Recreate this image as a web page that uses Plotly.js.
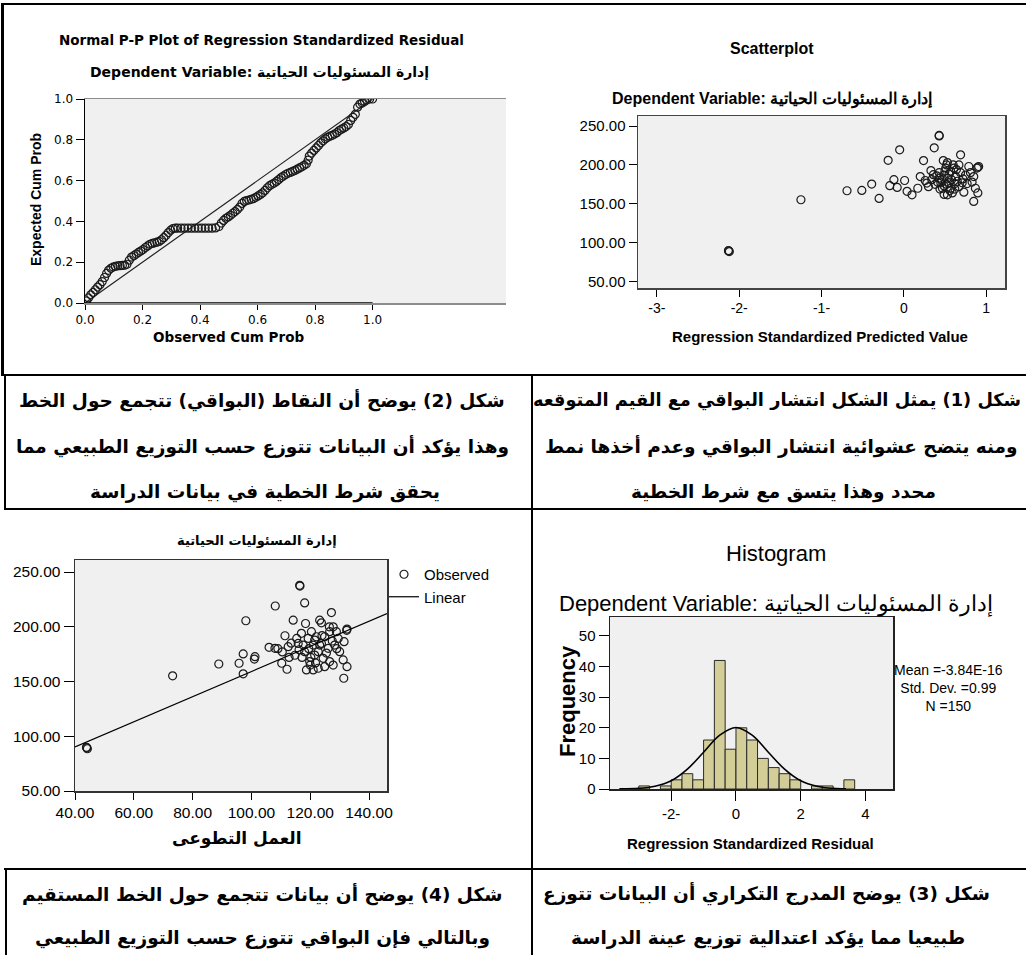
<!DOCTYPE html>
<html><head><meta charset="utf-8">
<script src="https://cdn.plot.ly/plotly-3.0.1.min.js"></script>
<style>html,body{margin:0;padding:0;background:#fff;}#chart{width:1026px;height:955px;}</style>
</head><body><div id="chart"></div>
<script>
// ---------- DATA ----------
// Chart: Normal P-P plot (observed cum prob, expected cum prob)
const ppPairs = [[0.005,0.010],[0.012,0.025],[0.020,0.040],[0.028,0.052],[0.036,0.065],[0.044,0.078],[0.052,0.090],[0.060,0.105],[0.068,0.125],[0.075,0.145],[0.082,0.160],[0.090,0.170],[0.098,0.176],[0.106,0.180],[0.114,0.182],[0.122,0.183],[0.130,0.184],[0.138,0.185],[0.146,0.190],[0.154,0.210],[0.162,0.225],[0.170,0.232],[0.178,0.240],[0.186,0.248],[0.194,0.255],[0.202,0.262],[0.210,0.272],[0.218,0.280],[0.226,0.288],[0.234,0.292],[0.242,0.295],[0.250,0.298],[0.258,0.302],[0.266,0.310],[0.274,0.320],[0.282,0.332],[0.290,0.345],[0.298,0.357],[0.306,0.365],[0.314,0.367],[0.322,0.367],[0.334,0.367],[0.346,0.367],[0.358,0.367],[0.370,0.367],[0.382,0.367],[0.394,0.367],[0.406,0.367],[0.418,0.367],[0.430,0.367],[0.442,0.367],[0.454,0.368],[0.466,0.375],[0.474,0.392],[0.482,0.405],[0.490,0.415],[0.498,0.422],[0.506,0.430],[0.514,0.440],[0.522,0.448],[0.530,0.458],[0.538,0.470],[0.546,0.488],[0.554,0.498],[0.562,0.502],[0.570,0.505],[0.578,0.508],[0.586,0.512],[0.594,0.518],[0.602,0.525],[0.610,0.532],[0.618,0.540],[0.626,0.552],[0.634,0.565],[0.642,0.575],[0.650,0.582],[0.658,0.588],[0.666,0.596],[0.674,0.605],[0.682,0.615],[0.690,0.622],[0.698,0.630],[0.706,0.636],[0.714,0.640],[0.722,0.645],[0.730,0.650],[0.738,0.656],[0.746,0.662],[0.754,0.668],[0.762,0.675],[0.770,0.682],[0.776,0.700],[0.780,0.720],[0.788,0.735],[0.796,0.748],[0.804,0.760],[0.812,0.772],[0.820,0.785],[0.828,0.795],[0.836,0.805],[0.844,0.812],[0.852,0.818],[0.860,0.822],[0.868,0.828],[0.876,0.835],[0.884,0.845],[0.892,0.852],[0.900,0.858],[0.908,0.865],[0.916,0.875],[0.924,0.895],[0.932,0.910],[0.940,0.925],[0.948,0.960],[0.956,0.975],[0.964,0.980],[0.972,0.988],[0.980,0.995],[0.990,1.000],[1.000,1.000]];
const ppRefX = [0, 1];
const ppRefY = [0, 1];
const ppTickVals = [0, 0.2, 0.4, 0.6, 0.8, 1.0];
const ppTickText = ['0.0', '0.2', '0.4', '0.6', '0.8', '1.0'];

// Chart: Scatterplot (standardized predicted value, dependent variable)
const scatPairs = [[-2.13,89.2],[-2.12,88.5],[-2.13,89.8],[-1.25,155.2],[-0.69,166.8],[-0.51,167.2],[-0.39,175.4],[-0.30,156.9],[-0.19,206],[-0.05,219.4],[-0.17,173.3],[-0.12,181],[-0.08,171],[0.01,180],[0.04,166],[0.10,161.6],[0.17,170],[0.20,185],[0.24,205.6],[0.28,176.7],[0.37,222],[0.43,238],[0.43,237.3],[0.33,192.7],[0.48,205.6],[0.69,213],[0.73,165],[0.85,153],[0.87,170],[0.89,196],[0.90,164],[0.90,197],[0.91,198],[0.85,185],[0.79,198],[0.75,187],[0.67,200],[0.65,179],[0.61,196],[0.57,170],[0.53,161.6],[0.47,170],[0.43,183],[0.38,175],[0.34,181],[0.49,187],[0.53,183],[0.55,177],[0.45,177],[0.51,196],[0.57,192],[0.63,185],[0.69,190],[0.71,177],[0.49,173],[0.43,190],[0.36,187.5],[0.59,164],[0.49,162],[0.67,172],[0.41,178],[0.46,181],[0.52,175],[0.58,181],[0.62,176],[0.55,188],[0.50,192],[0.40,186],[0.60,200],[0.53,203],[0.56,167],[0.44,169],[0.62,169],[0.72,182],[0.77,176],[0.81,190],[0.83,178],[0.30,172],[0.26,180],[0.52,200],[0.64,194]];
const scatXTickVals = [-3, -2, -1, 0, 1];
const scatXTickText = ['-3-', '-2-', '-1-', '0', '1'];
const scatYTickVals = [50, 100, 150, 200, 250];
const scatYTickText = ['50.00', '100.00', '150.00', '200.00', '250.00'];

// Chart: Histogram of standardized residuals
const histCenters = [-2.833, -2.167, -1.833, -1.5, -1.167, -0.833, -0.5, -0.167, 0.167, 0.5, 0.833, 1.167, 1.5, 1.833, 2.5, 2.833, 3.5];
const histCounts  = [1, 1, 3, 5, 3, 16, 42, 13, 20, 16, 10, 7, 5, 3, 1, 1, 3];
const normCurveX = [-3.6, -3.0, -2.5, -2.0, -1.5, -1.0, -0.5, 0, 0.5, 1.0, 1.5, 2.0, 2.5, 3.0, 3.4];
const normCurveY = [0.05, 0.2, 0.9, 2.7, 6.5, 12.0, 17.6, 20.1, 17.6, 12.0, 6.5, 2.7, 0.9, 0.2, 0.06];
const histXTickVals = [-2, 0, 2, 4];
const histXTickText = ['-2-', '0', '2', '4'];
const histYTickVals = [0, 10, 20, 30, 40, 50];
const histStats = ['Mean =-3.84E-16', 'Std. Dev. =0.99', 'N =150'];

// Chart: volunteer work vs life-responsibility management
const volPairs = [[44.0,89.4],[44.2,88.6],[43.9,89.9],[73.2,155.2],[88.9,166],[98.1,205.5],[97.2,175.2],[95.8,166.7],[97.2,157],[101.2,172.7],[101.0,170.5],[106.0,181.2],[108,180.3],[108.1,219],[111.4,191.8],[110.3,166.7],[112.1,161.2],[112.5,181.8],[114.2,206],[116.4,237.9],[116.5,237.2],[118.1,221.8],[118.4,203],[123.2,206],[123.8,203.6],[127.2,213],[127.8,200],[132.5,197.9],[132.4,196.8],[131.5,186.4],[131.2,169.7],[131.4,153],[132.5,163.6],[127.8,165],[114.8,174],[115.9,184.8],[117,194],[118.1,177.3],[119.3,189.4],[119.8,168.2],[121,183.3],[121.5,174.2],[122.7,162.1],[123.2,183.3],[124.4,171.2],[124.9,190.9],[126.1,180.3],[126.6,168.2],[128.3,183.3],[129.5,189.4],[130,177.3],[122.1,190.9],[120.4,195.5],[118.7,160.6],[121,160.6],[124.9,163.6],[128.9,195.5],[126.6,195.5],[122.7,177.3],[121.5,187.9],[123.8,184.8],[117.6,183.3],[115.4,189.4],[112.8,172],[119.5,180],[120.2,172],[125.5,176],[127.5,187],[129,180],[116.2,179],[113.5,185],[121.8,167],[124,192],[126.5,200],[120,165],[117.2,172],[110.5,177],[109,180]];
const fitX = [40, 146.1];
const fitY = [90.3, 212];
const volXTickVals = [40, 60, 80, 100, 120, 140];
const volXTickText = ['40.00', '60.00', '80.00', '100.00', '120.00', '140.00'];

// Texts
const depVarAr = 'إدارة المسئوليات الحياتية';
const volAr = 'العمل التطوعى';
const cell2Lines = ['شكل (2) يوضح أن النقاط (البواقي) تتجمع حول الخط', 'وهذا يؤكد أن البيانات تتوزع حسب التوزيع الطبيعي مما', 'يحقق شرط الخطية في بيانات الدراسة'];
const cell1Lines = ['شكل (1) يمثل الشكل انتشار البواقي مع القيم المتوقعه', 'ومنه يتضح عشوائية انتشار البواقي وعدم أخذها نمط', 'محدد وهذا يتسق مع شرط الخطية'];
const cell4Lines = ['شكل (4) يوضح أن بيانات تتجمع حول الخط المستقيم', 'وبالتالي فإن البواقي تتوزع حسب التوزيع الطبيعي'];
const cell3Lines = ['شكل (3) يوضح المدرج التكراري أن البيانات تتوزع', 'طبيعيا مما يؤكد اعتدالية توزيع عينة الدراسة'];

// ---------- LAYOUT HELPERS ----------
const W = 1026, H = 955;
const fx = v => v / W;
const fy = v => 1 - v / H;
const ARIAL = 'Liberation Sans, Arial, sans-serif';
const WIDE = 'DejaVu Sans, Verdana, sans-serif';
const NARROW = 'Liberation Sans Narrow, Arial Narrow, Liberation Sans, sans-serif';
const BG = '#f0f0f0';
const AR_SIZE = 18.5;

function ann(text, x, y, size, family, extra) {
  return Object.assign({text: text, x: fx(x), y: fy(y), xref: 'paper', yref: 'paper',
    xanchor: 'center', yanchor: 'middle', showarrow: false,
    font: {size: size, family: family, color: '#000'}}, extra || {});
}
function hline(y, x0, x1, w) {
  return {type: 'line', xref: 'paper', yref: 'paper', x0: fx(x0), x1: fx(x1), y0: fy(y), y1: fy(y), line: {color: '#000', width: w || 2}};
}
function vline(x, y0, y1, w) {
  return {type: 'line', xref: 'paper', yref: 'paper', x0: fx(x), x1: fx(x), y0: fy(y0), y1: fy(y1), line: {color: '#000', width: w || 2}};
}
function baseAxis(dom, range, extra) {
  return Object.assign({domain: dom, range: range, showgrid: false, zeroline: false,
    ticks: 'outside', tickcolor: '#000', tickwidth: 1, fixedrange: true}, extra);
}

// ---------- TRACES ----------
const openMarker = (size) => ({symbol: 'circle-open', size: size, color: '#1a1a1a', line: {width: 1.2}});
const traces = [
  {x: ppRefX, y: ppRefY, xaxis: 'x', yaxis: 'y', mode: 'lines', line: {color: '#222', width: 1.2}, showlegend: false, hoverinfo: 'skip'},
  {x: ppPairs.map(p => p[0]), y: ppPairs.map(p => p[1]), xaxis: 'x', yaxis: 'y', mode: 'markers', marker: openMarker(8), showlegend: false},
  {x: scatPairs.map(p => p[0]), y: scatPairs.map(p => p[1]), xaxis: 'x2', yaxis: 'y2', mode: 'markers', marker: openMarker(8), showlegend: false},
  {type: 'bar', x: histCenters, y: histCounts, width: 1/3, xaxis: 'x3', yaxis: 'y3', marker: {color: '#d3ce97', line: {color: '#2a2a2a', width: 1}}, showlegend: false},
  {x: normCurveX, y: normCurveY, xaxis: 'x3', yaxis: 'y3', mode: 'lines', line: {color: '#000', width: 1.6, shape: 'spline'}, showlegend: false},
  {x: volPairs.map(p => p[0]), y: volPairs.map(p => p[1]), xaxis: 'x4', yaxis: 'y4', mode: 'markers', name: 'Observed', marker: openMarker(8)},
  {x: fitX, y: fitY, xaxis: 'x4', yaxis: 'y4', mode: 'lines', name: 'Linear', line: {color: '#000', width: 1.2}}
];

// ---------- LAYOUT ----------
const tf = (s, fam) => ({size: s, family: fam, color: '#000'});
const layout = {
  width: W, height: H, margin: {l: 0, r: 0, t: 0, b: 0},
  paper_bgcolor: '#fff', plot_bgcolor: BG,
  showlegend: true,
  legend: {x: fx(384), y: fy(558), xanchor: 'left', yanchor: 'top', bgcolor: 'rgba(0,0,0,0)', font: tf(15, ARIAL), itemwidth: 30, tracegroupgap: 0},
  // P-P plot
  xaxis: baseAxis([fx(85), fx(506)], [0, 1.464], {anchor: 'y', tickvals: ppTickVals, ticktext: ppTickText, ticklen: 5, tickfont: tf(12, WIDE), showline: true, linecolor: '#8c8c8c', linewidth: 1.5, mirror: true}),
  yaxis: baseAxis([fy(303), fy(99)], [0, 1], {anchor: 'x', tickvals: ppTickVals, ticktext: ppTickText, ticklen: 8, tickfont: tf(12, WIDE), showline: true, linecolor: '#000', linewidth: 1.5}),
  // Scatterplot
  xaxis2: baseAxis([fx(638), fx(1005)], [-3.23, 1.23], {anchor: 'y2', tickvals: scatXTickVals, ticktext: scatXTickText, ticklen: 7, tickfont: tf(14, ARIAL), showline: true, linecolor: '#444', linewidth: 1.5, mirror: true}),
  yaxis2: baseAxis([fy(288), fy(116)], [41.6, 263], {anchor: 'x2', tickvals: scatYTickVals, ticktext: scatYTickText, ticklen: 8, tickfont: tf(15, ARIAL), showline: true, linecolor: '#444', linewidth: 1.5, mirror: true}),
  // Histogram
  xaxis3: baseAxis([fx(610), fx(893)], [-3.89, 4.85], {anchor: 'y3', tickvals: histXTickVals, ticktext: histXTickText, ticklen: 10, tickfont: tf(15, ARIAL), showline: true, linecolor: '#222', linewidth: 1.5, mirror: true}),
  yaxis3: baseAxis([fy(789), fy(617)], [0, 56.2], {anchor: 'x3', tickvals: histYTickVals, ticklen: 10, tickfont: tf(15, ARIAL), showline: true, linecolor: '#222', linewidth: 1.5, mirror: true}),
  // Volunteer scatter
  xaxis4: baseAxis([fx(75), fx(387)], [40, 146.1], {anchor: 'y4', tickvals: volXTickVals, ticktext: volXTickText, ticklen: 7, tickfont: tf(15.5, ARIAL), showline: true, linecolor: '#333', linewidth: 1.5, mirror: true}),
  yaxis4: baseAxis([fy(791), fy(560)], [50, 261], {anchor: 'x4', tickvals: scatYTickVals, ticktext: scatYTickText, ticklen: 10, tickfont: tf(15.5, ARIAL), showline: true, linecolor: '#333', linewidth: 1.5, mirror: true}),
  shapes: [
    // black x-axis segment over the observed-probability range of the P-P plot
    {type: 'line', xref: 'x', yref: 'y', x0: ppTickVals[0], x1: ppTickVals[ppTickVals.length - 1], y0: 0, y1: 0, line: {color: '#000', width: 1.6}},
    // table rules
    hline(4, 1, 1026, 2),
    vline(2.5, 4, 375, 3),
    hline(375, 1, 1026, 2),
    vline(5, 375, 509, 2),
    hline(509, 4, 1026, 2),
    vline(532, 375, 955, 2),
    hline(869, 4, 1026, 2),
    vline(6, 869, 955, 2)
  ],
  annotations: [
    ann('<b>Normal P-P Plot of Regression Standardized Residual</b>', 261, 40, 13.5, WIDE),
    ann('<b>Dependent Variable: ' + depVarAr + '</b>', 259, 73, 14, WIDE),
    ann('<b>Expected Cum Prob</b>', 36, 200, 14, NARROW, {textangle: -90}),
    ann('<b>Observed Cum Prob</b>', 228, 337, 13.5, WIDE),

    ann('<b>Scatterplot</b>', 772, 48, 16, ARIAL),
    ann('<b>Dependent Variable: ' + depVarAr + '</b>', 772, 99, 16, ARIAL),
    ann('<b>Regression Standardized Predicted Value</b>', 820, 337, 15, ARIAL),

    ann('Histogram', 776, 553, 22, ARIAL),
    ann('Dependent Variable: ' + depVarAr, 776, 604, 22, ARIAL),
    ann('<b>Frequency</b>', 567, 701, 22, ARIAL, {textangle: -90}),
    ann('<b>Regression Standardized Residual</b>', 750, 843, 15, ARIAL),
    ann(histStats.join('<br>'), 948, 688, 14, ARIAL, {align: 'center'}),

    ann('<b>' + depVarAr + '</b>', 257, 540, 13, WIDE),
    ann('<b>' + volAr + '</b>', 236, 838, 17, WIDE),

    ann('<b>' + cell2Lines[0] + '</b>', 262, 400, AR_SIZE, WIDE),
    ann('<b>' + cell2Lines[1] + '</b>', 262, 447, AR_SIZE, WIDE),
    ann('<b>' + cell2Lines[2] + '</b>', 265, 492, AR_SIZE, WIDE),
    ann('<b>' + cell1Lines[0] + '</b>', 777, 400, 17.8, WIDE),
    ann('<b>' + cell1Lines[1] + '</b>', 781, 447, AR_SIZE, WIDE),
    ann('<b>' + cell1Lines[2] + '</b>', 783, 492, AR_SIZE, WIDE),
    ann('<b>' + cell4Lines[0] + '</b>', 262, 894, AR_SIZE, WIDE),
    ann('<b>' + cell4Lines[1] + '</b>', 262, 938, AR_SIZE, WIDE),
    ann('<b>' + cell3Lines[0] + '</b>', 766, 894, AR_SIZE, WIDE),
    ann('<b>' + cell3Lines[1] + '</b>', 768, 938, AR_SIZE, WIDE)
  ]
};

Plotly.newPlot('chart', traces, layout, {displayModeBar: false, staticPlot: true});
</script></body></html>
